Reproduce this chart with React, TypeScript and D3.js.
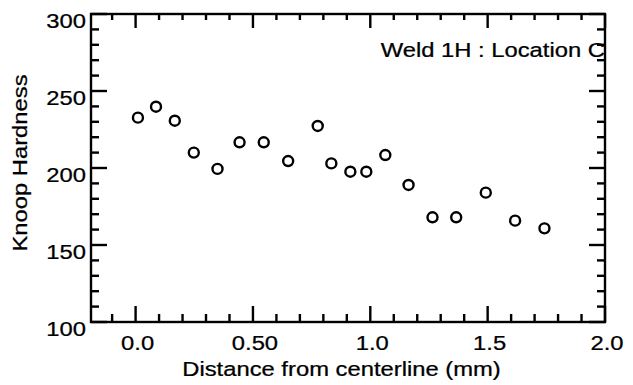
import React from "react";
import * as d3 from "d3";

const distances = [0.01, 0.087, 0.167, 0.248, 0.349, 0.443, 0.546, 0.65, 0.776, 0.834, 0.915, 0.983, 1.064, 1.163, 1.265, 1.366, 1.492, 1.617, 1.742];
const hardness = [232.7, 239.8, 230.7, 210, 199.4, 216.7, 216.7, 204.5, 227.3, 203, 197.6, 197.6, 208.4, 189, 168, 168, 184, 165.8, 160.8];

const xMajor = [0, 0.5, 1.0, 1.5, 2.0];
const xMajorLabels = ["0.0", "0.50", "1.0", "1.5", "2.0"];
const yMajor = [100, 150, 200, 250, 300];
const yMajorLabels = ["100", "150", "200", "250", "300"];

const xTitle = "Distance from centerline (mm)";
const yTitle = "Knoop Hardness";
const annotation = "Weld 1H : Location C";

const W = 633;
const H = 385;
const M = { left: 91, right: 605, top: 14, bottom: 322 };
const FONT = "'Liberation Sans', Arial, sans-serif";
const FS = 19.5;
const SX = 1.22;

function Label({ x, y, text, anchor = "start", rotate = 0, size = FS }: { x: number; y: number; text: string; anchor?: string; rotate?: number; size?: number }) {
  return (
    <text
      transform={`translate(${x},${y}) rotate(${rotate}) scale(${SX},1)`}
      textAnchor={anchor}
      fontFamily={FONT}
      fontSize={size}
      fill="#000"
      stroke="#000"
      strokeWidth={0.25}
    >
      {text}
    </text>
  );
}

export default function App() {
  const x = d3.scaleLinear().domain([-0.19, 2.0]).range([M.left, M.right]);
  const y = d3.scaleLinear().domain([100, 300]).range([M.bottom, M.top]);

  const xMinor = d3.range(-1, 20).map((i) => i / 10).filter((v) => Math.abs(v * 2 - Math.round(v * 2)) > 1e-6);
  const yMinor = d3.range(100, 301, 10).filter((v) => v % 50 !== 0);

  const major = 16;
  const minor = 8;
  const sw = 2.4;

  return (
    <svg width={W} height={H} style={{ position: "absolute", left: 0, top: 0, background: "#fff" }}>
      <rect x={0} y={0} width={W} height={H} fill="#fff" />
      {/* frame */}
      <rect x={M.left} y={M.top} width={M.right - M.left} height={M.bottom - M.top} fill="none" stroke="#000" strokeWidth={sw} />
      {/* x ticks bottom & top */}
      {xMajor.map((v) => (
        <g key={"xM" + v}>
          <line x1={x(v)} x2={x(v)} y1={M.bottom} y2={M.bottom - major} stroke="#000" strokeWidth={sw} />
          <line x1={x(v)} x2={x(v)} y1={M.top} y2={M.top + major - 2} stroke="#000" strokeWidth={sw} />
        </g>
      ))}
      {xMinor.map((v) => (
        <g key={"xm" + v}>
          <line x1={x(v)} x2={x(v)} y1={M.bottom} y2={M.bottom - minor} stroke="#000" strokeWidth={sw} />
          <line x1={x(v)} x2={x(v)} y1={M.top} y2={M.top + minor - 2} stroke="#000" strokeWidth={sw} />
        </g>
      ))}
      {/* y ticks left & right */}
      {yMajor.map((v) => (
        <g key={"yM" + v}>
          <line x1={M.left} x2={M.left + major} y1={y(v)} y2={y(v)} stroke="#000" strokeWidth={sw} />
          <line x1={M.right} x2={M.right - major} y1={y(v)} y2={y(v)} stroke="#000" strokeWidth={sw} />
        </g>
      ))}
      {yMinor.map((v) => (
        <g key={"ym" + v}>
          <line x1={M.left} x2={M.left + minor} y1={y(v)} y2={y(v)} stroke="#000" strokeWidth={sw} />
          <line x1={M.right} x2={M.right - minor} y1={y(v)} y2={y(v)} stroke="#000" strokeWidth={sw} />
        </g>
      ))}
      {/* tick labels */}
      {xMajor.map((v, i) => (
        <Label key={"xl" + v} x={x(v) + 2} y={349.5} text={xMajorLabels[i]} anchor="middle" />
      ))}
      {yMajor.map((v, i) => (
        <Label key={"yl" + v} x={86} y={y(v) + 13.5} text={yMajorLabels[i]} anchor="end" />
      ))}
      {/* titles */}
      <Label x={341.5} y={376} text={xTitle} anchor="middle" />
      <Label x={27} y={163} text={yTitle} anchor="middle" rotate={-90} />
      <Label x={605} y={56.5} text={annotation} anchor="end" />
      {/* points */}
      {distances.map((d, i) => (
        <circle key={"p" + i} cx={x(d)} cy={y(hardness[i])} r={5} fill="none" stroke="#000" strokeWidth={2.4} />
      ))}
    </svg>
  );
}
